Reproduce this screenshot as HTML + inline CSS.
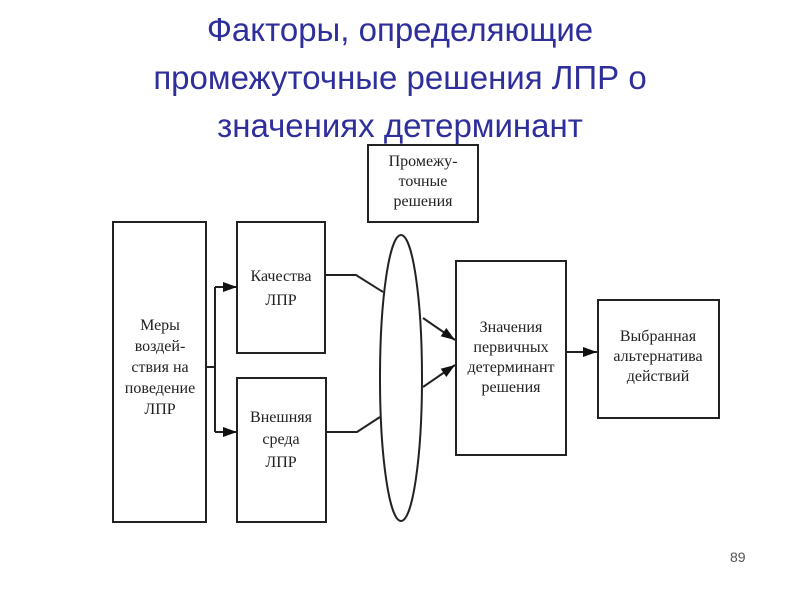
<!DOCTYPE html>
<html><head><meta charset="utf-8"><style>
body{margin:0;width:800px;height:600px;background:#fff;overflow:hidden;position:relative}
.t{position:absolute;left:0;width:800px;text-align:center;font-family:"Liberation Sans",sans-serif;font-size:33px;color:#2f2f9c;line-height:48px;top:6px}
.n{position:absolute;left:730px;top:549px;font-family:"Liberation Sans",sans-serif;font-size:14px;color:#555}
</style></head><body>
<div class="t">Факторы, определяющие<br>промежуточные решения ЛПР о<br>значениях детерминант</div>
<svg width="800" height="600" style="position:absolute;left:0;top:0" font-family="Liberation Serif, serif" font-size="16" fill="#222">
<defs><marker id="a" markerWidth="14" markerHeight="10" refX="14" refY="5" orient="auto" markerUnits="userSpaceOnUse"><path d="M0,0L14,5L0,10z" fill="#111"/></marker></defs>
<g fill="none" stroke="#222" stroke-width="2">
<rect x="113" y="222" width="93" height="300"/>
<rect x="237" y="222" width="88" height="131"/>
<rect x="237" y="378" width="89" height="144"/>
<rect x="368" y="145" width="110" height="77"/>
<ellipse cx="401" cy="378" rx="21" ry="143"/>
<rect x="456" y="261" width="110" height="194"/>
<rect x="598" y="300" width="121" height="118"/>
<path d="M206,367H215M215,287V432"/>
<path d="M215,287H237" marker-end="url(#a)"/>
<path d="M215,432H237" marker-end="url(#a)"/>
<path d="M325,275H356L383,292M326,432H357L380,417"/>
<path d="M423,318L455,340" marker-end="url(#a)"/>
<path d="M423,387L455,365" marker-end="url(#a)"/>
<path d="M566,352H597" marker-end="url(#a)"/>
</g>
<g text-anchor="middle">
<text x="423" y="166">Промежу-</text><text x="423" y="186">точные</text><text x="423" y="206">решения</text>
<text x="160" y="330">Меры</text><text x="160" y="351">воздей-</text><text x="160" y="372">ствия на</text><text x="160" y="393">поведение</text><text x="160" y="414">ЛПР</text>
<text x="281" y="281">Качества</text><text x="281" y="305">ЛПР</text>
<text x="281" y="422">Внешняя</text><text x="281" y="444">среда</text><text x="281" y="467">ЛПР</text>
<text x="511" y="332">Значения</text><text x="511" y="352">первичных</text><text x="511" y="372">детерминант</text><text x="511" y="392">решения</text>
<text x="658" y="341">Выбранная</text><text x="658" y="361">альтернатива</text><text x="658" y="381">действий</text>
</g>
</svg>
<div class="n">89</div>
</body></html>
